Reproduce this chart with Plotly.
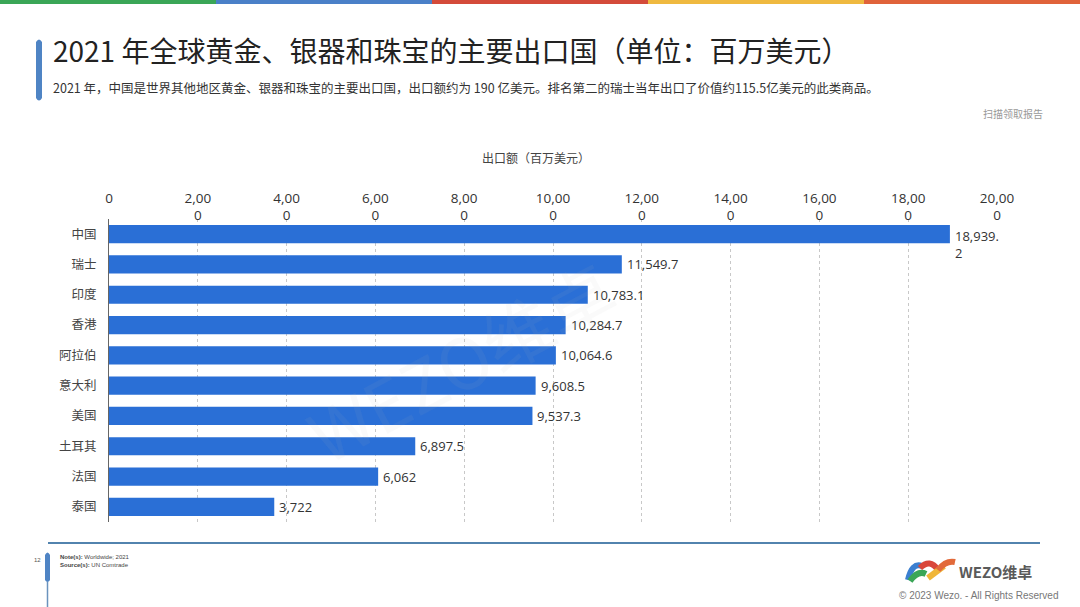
import plotly.graph_objects as go

W, H = 1080, 607

countries = ["中国", "瑞士", "印度", "香港", "阿拉伯", "意大利", "美国", "土耳其", "法国", "泰国"]
values = [18939.2, 11549.7, 10783.1, 10284.7, 10064.6, 9608.5, 9537.3, 6897.5, 6062, 3722]
tick_vals = [0, 2000, 4000, 6000, 8000, 10000, 12000, 14000, 16000, 18000, 20000]
tick_text = ["0<br> ", "2,00<br>0", "4,00<br>0", "6,00<br>0", "8,00<br>0", "10,00<br>0",
             "12,00<br>0", "14,00<br>0", "16,00<br>0", "18,00<br>0", "20,00<br>0"]

title = "2021 年全球黄金、银器和珠宝的主要出口国（单位：百万美元）"
subtitle = "2021 年，中国是世界其他地区黄金、银器和珠宝的主要出口国，出口额约为 190 亿美元。排名第二的瑞士当年出口了价值约115.5亿美元的此类商品。"
axis_title = "出口额（百万美元）"

FONT = "Noto Sans CJK SC, Noto Sans, sans-serif"
NUMFONT = "Open Sans, Noto Sans, sans-serif"
BAR = "#2a6fd6"


def px(x):
    return x / W


def py(y):
    return 1 - y / H


def fmt(v):
    return f"{v:,.1f}" if v % 1 else f"{v:,.0f}"


fig = go.Figure()
fig.add_trace(go.Bar(
    x=values, y=countries, orientation="h",
    marker=dict(color=BAR, line=dict(width=0)),
    width=0.6, hoverinfo="x+y", cliponaxis=False,
))

annotations = []
# value labels
for c, v in zip(countries, values):
    lab = fmt(v)
    if v > 18000:
        lab = lab[:-1] + "<br>" + lab[-1]
        annotations.append(dict(x=v, y=c, xref="x", yref="y", text=lab, showarrow=False,
                                xanchor="left", yanchor="top", xshift=3, yshift=9, align="left",
                                font=dict(family=NUMFONT, size=13, color="#333")))
    else:
        annotations.append(dict(x=v, y=c, xref="x", yref="y", text=lab, showarrow=False,
                                xanchor="left", yanchor="middle", xshift=3,
                                font=dict(family=NUMFONT, size=13, color="#333")))

# texts
annotations += [
    dict(x=px(51), y=py(50), xref="paper", yref="paper", text=title, showarrow=False,
         xanchor="left", yanchor="middle", font=dict(family=FONT, size=28, color="#222")),
    dict(x=px(51), y=py(87), xref="paper", yref="paper", text=subtitle, showarrow=False,
         xanchor="left", yanchor="middle", font=dict(family=FONT, size=12.5, color="#333")),
    dict(x=px(1045), y=py(113), xref="paper", yref="paper", text="扫描领取报告", showarrow=False,
         xanchor="right", yanchor="middle", font=dict(family=FONT, size=10, color="#999")),
    dict(x=px(536), y=py(157), xref="paper", yref="paper", text=axis_title, showarrow=False,
         xanchor="center", yanchor="middle", font=dict(family=FONT, size=12, color="#444")),
    dict(x=px(37), y=py(560), xref="paper", yref="paper", text="12", showarrow=False,
         xanchor="center", yanchor="middle", font=dict(family="Liberation Sans", size=6, color="#555")),
    dict(x=px(58), y=py(561), xref="paper", yref="paper",
         text="<b>Note(s):</b> Worldwide; 2021<br><b>Source(s):</b> UN Comtrade", showarrow=False,
         xanchor="left", yanchor="middle", align="left",
         font=dict(family="Liberation Sans", size=6, color="#444")),
    dict(x=px(957), y=py(571), xref="paper", yref="paper", text="<b>WEZO维卓</b>", showarrow=False,
         xanchor="left", yanchor="middle", font=dict(family="Noto Sans CJK SC", size=15, color="#5a5a5a")),
    dict(x=px(1060), y=py(595), xref="paper", yref="paper", text="© 2023 Wezo. - All Rights Reserved",
         showarrow=False, xanchor="right", yanchor="middle",
         font=dict(family="Liberation Sans", size=10, color="#777")),
    dict(x=px(460), y=py(360), xref="paper", yref="paper", text="WEZO维卓", showarrow=False,
         textangle=-28, xanchor="center", yanchor="middle",
         font=dict(family="Noto Sans CJK SC", size=70, color="rgba(190,190,190,0.07)")),
]

shapes = []
# top color strip
strip = ["#3aa657", "#4a80c8", "#d44b3a", "#efb940", "#e0633a"]
for i, col in enumerate(strip):
    shapes.append(dict(type="rect", xref="paper", yref="paper", x0=px(i * 216), x1=px((i + 1) * 216),
                       y0=py(4), y1=py(0), fillcolor=col, line=dict(width=0), layer="above"))
# left title accent bar
shapes.append(dict(type="path", xref="paper", yref="paper",
                   path=f"M {px(36)},{py(42)} Q {px(39)},{py(37)} {px(42)},{py(42)} L {px(42)},{py(98)} Q {px(39)},{py(103)} {px(36)},{py(98)} Z",
                   fillcolor="#4f84c4", line=dict(width=0)))
# footer line
shapes.append(dict(type="line", xref="paper", yref="paper", x0=px(48), x1=px(1040), y0=py(543), y1=py(543),
                   line=dict(color="#5283ae", width=2)))
# footer accent
shapes.append(dict(type="path", xref="paper", yref="paper",
                   path=f"M {px(45)},{py(555)} Q {px(47.5)},{py(550)} {px(50)},{py(555)} L {px(50)},{py(580)} Q {px(47.5)},{py(584)} {px(45)},{py(580)} Z",
                   fillcolor="#4f84c4", line=dict(width=0)))
shapes.append(dict(type="line", xref="paper", yref="paper", x0=px(47.5), x1=px(47.5), y0=py(582), y1=py(607),
                   line=dict(color="#6a93bd", width=1.5)))
# WEZO logo swooshes
logo = [
    ("#3b7fd0", 908, 580, 912, 562, 922, 566),
    ("#3aa657", 910, 581, 918, 570, 926, 574),
    ("#d9463a", 920, 568, 930, 558, 938, 570),
    ("#f0b638", 928, 578, 936, 572, 944, 566),
    ("#e26a3a", 938, 570, 946, 560, 955, 562),
]
for col, x0, y0, cx, cy, x1, y1 in logo:
    shapes.append(dict(type="path", xref="paper", yref="paper",
                       path=f"M {px(x0)},{py(y0)} Q {px(cx)},{py(cy)} {px(x1)},{py(y1)}",
                       line=dict(color=col, width=6)))

fig.update_layout(
    width=W, height=H, margin=dict(l=0, r=0, t=0, b=0, autoexpand=False),
    paper_bgcolor="white", plot_bgcolor="white",
    showlegend=False, bargap=0.4,
    annotations=annotations, shapes=shapes,
    xaxis=dict(domain=[px(109), px(997)], range=[0, 20000], side="top", automargin=False,
               tickvals=tick_vals, ticktext=tick_text, ticklabelstandoff=-5,
               showgrid=True, gridcolor="#c8c8c8", griddash="dot", gridwidth=1,
               zeroline=False, showline=False, ticks="",
               tickfont=dict(family=NUMFONT, size=13.5, color="#333"), fixedrange=True),
    yaxis=dict(domain=[py(522), py(219)], range=[len(countries) - 0.5, -0.5], categoryorder="array",
               categoryarray=countries, showgrid=False, zeroline=False, automargin=False,
               showline=True, linecolor="#666", linewidth=1, ticks="",
               ticklabelstandoff=9,
               tickfont=dict(family=FONT, size=12.5, color="#444"), fixedrange=True),
)

fig.write_html("out.html", config={"displayModeBar": False},
               post_script="document.body.style.margin='0';document.body.style.overflow='hidden';")
